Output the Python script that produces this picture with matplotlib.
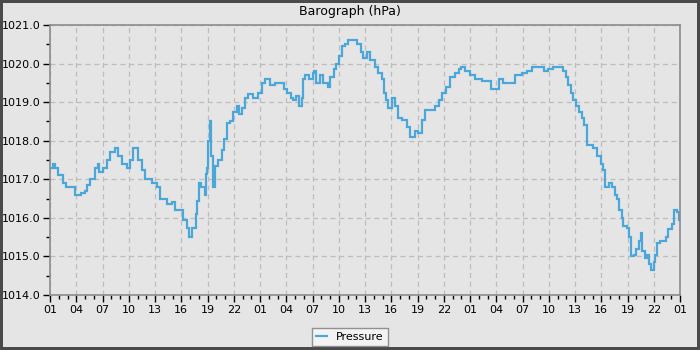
import matplotlib
matplotlib.use("Agg")
import matplotlib.pyplot as plt
from matplotlib.ticker import MultipleLocator, FixedLocator, FixedFormatter

# Hours since start (01:00 day 1) and pressure readings (hPa)
hours = [0.0, 0.3, 0.6, 0.9, 1.5, 1.8, 2.9, 3.5, 4.0, 4.2, 4.6, 5.1, 5.5, 5.6, 6.1, 6.5, 6.9,
         7.4, 7.8, 8.2, 8.8, 9.1, 9.5, 10.0, 10.5, 10.9, 11.6, 12.2, 12.6, 13.4, 13.9, 14.3,
         15.2, 15.6, 15.9, 16.2, 16.7, 16.8, 17.0, 17.3, 17.7, 17.8, 17.9, 18.0, 18.3, 18.4,
         18.6, 18.9, 19.2, 19.6, 19.9, 20.2, 20.6, 20.9, 21.4, 21.6, 21.9, 22.3, 22.6, 23.2,
         23.8, 24.2, 24.6, 25.1, 25.7, 26.3, 26.7, 27.1, 27.5, 27.8, 28.1, 28.4, 28.8, 28.9,
         29.1, 29.6, 30.0, 30.2, 30.4, 30.9, 31.2, 31.8, 32.0, 32.4, 32.7, 33.0, 33.4, 33.7,
         34.1, 35.1, 35.5, 35.8, 36.2, 36.6, 37.1, 37.5, 37.9, 38.2, 38.4, 38.6, 39.1, 39.4,
         39.8, 40.2, 40.8, 41.1, 41.7, 42.0, 42.5, 42.9, 44.0, 44.4, 44.8, 45.3, 45.7, 46.3,
         46.7, 47.0, 47.4, 48.0, 48.6, 49.4, 50.4, 51.3, 51.8, 53.1, 53.9, 54.5, 55.1, 56.4,
         56.9, 57.5, 58.6, 59.0, 59.2, 59.5, 59.8, 60.1, 60.5, 60.8, 61.0, 61.4, 62.1, 62.5,
         63.0, 63.2, 63.4, 63.9, 64.2, 64.6, 64.8, 65.0, 65.4, 65.5, 65.9, 66.2, 66.4, 66.7,
         67.0, 67.3, 67.5, 67.7, 68.0, 68.2, 68.4, 68.7, 69.0, 69.1, 69.4, 69.7, 70.4, 70.6,
         71.1, 71.3, 71.6, 71.9, 72.0]
pressure = [1017.3, 1017.4, 1017.3, 1017.1, 1016.9, 1016.8, 1016.6, 1016.65, 1016.7, 1016.85,
            1017.0, 1017.3, 1017.4, 1017.2, 1017.3, 1017.5, 1017.7, 1017.8, 1017.6, 1017.4,
            1017.3, 1017.5, 1017.8, 1017.5, 1017.25, 1017.0, 1016.9, 1016.8, 1016.5, 1016.35,
            1016.4, 1016.2, 1015.95, 1015.75, 1015.5, 1015.75, 1016.1, 1016.45, 1016.9, 1016.8,
            1016.6, 1017.15, 1017.3, 1018.0, 1018.5, 1017.6, 1016.8, 1017.35, 1017.5, 1017.75,
            1018.05, 1018.45, 1018.5, 1018.75, 1018.9, 1018.7, 1018.85, 1019.1, 1019.2, 1019.1,
            1019.25, 1019.5, 1019.6, 1019.45, 1019.5, 1019.5, 1019.35, 1019.25, 1019.1, 1019.05,
            1019.15, 1018.9, 1019.1, 1019.6, 1019.7, 1019.6, 1019.75, 1019.8, 1019.5, 1019.7,
            1019.5, 1019.4, 1019.65, 1019.85, 1020.0, 1020.2, 1020.45, 1020.5, 1020.6, 1020.5,
            1020.3, 1020.15, 1020.3, 1020.1, 1019.9, 1019.75, 1019.6, 1019.25, 1019.05, 1018.85,
            1019.1, 1018.9, 1018.6, 1018.55, 1018.35, 1018.1, 1018.25, 1018.2, 1018.55, 1018.8,
            1018.9, 1019.05, 1019.25, 1019.4, 1019.65, 1019.75, 1019.85, 1019.9, 1019.8, 1019.7,
            1019.6, 1019.55, 1019.35, 1019.6, 1019.5, 1019.7, 1019.75, 1019.8, 1019.9, 1019.8,
            1019.85, 1019.9, 1019.8, 1019.65, 1019.45, 1019.25, 1019.05, 1018.9, 1018.75, 1018.6,
            1018.4, 1017.9, 1017.8, 1017.6, 1017.4, 1017.25, 1016.8, 1016.9, 1016.8, 1016.6,
            1016.5, 1016.2, 1016.0, 1015.8, 1015.75, 1015.5, 1015.0, 1015.05, 1015.2, 1015.4,
            1015.6, 1015.15, 1014.95, 1015.05, 1014.8, 1014.65, 1014.85, 1015.05, 1015.35, 1015.4,
            1015.5, 1015.7, 1015.85, 1016.2, 1016.15, 1015.95, 1015.95]

tick_hours = list(range(0, 73, 3))
tick_labels = ["01", "04", "07", "10", "13", "16", "19", "22"] * 3 + ["01"]
series_name = "Pressure"
title = "Barograph (hPa)"

bg = "#e5e5e5"
fig = plt.figure(figsize=(7, 3.5), dpi=100)
fig.patch.set_facecolor(bg)
fig.patch.set_edgecolor("#4a4a4a")
fig.patch.set_linewidth(3)

ax = fig.add_axes([50/700, 1-295/350, 630/700, 270/350])
ax.set_facecolor(bg)
ax.plot(hours, pressure, drawstyle="steps-post", color="#4ba6d9", linewidth=1.6,
        label=series_name, solid_joinstyle="miter")

ax.set_xlim(0, 72)
ax.set_ylim(1014, 1021)
ax.xaxis.set_major_locator(FixedLocator(tick_hours))
ax.xaxis.set_major_formatter(FixedFormatter(tick_labels))
ax.xaxis.set_minor_locator(MultipleLocator(1))
ax.yaxis.set_major_locator(MultipleLocator(1))
ax.yaxis.set_minor_locator(MultipleLocator(0.5))
ax.yaxis.set_major_formatter(matplotlib.ticker.FormatStrFormatter("%.1f"))

ax.grid(True, which="major", linestyle=(0, (4, 3)), color="#bdbdbd", linewidth=0.9)
ax.set_axisbelow(True)
for s in ax.spines.values():
    s.set_color("#8c8c8c")
    s.set_linewidth(1.2)

ax.tick_params(axis="both", which="major", length=5, width=1, color="black",
               labelsize=8, pad=2, labelcolor="black")
ax.tick_params(axis="both", which="minor", length=3, width=1, color="black")

fig.text(0.5, 1 - 12/350, title, fontsize=9, ha="center", va="center")

leg = fig.legend(loc="lower center", bbox_to_anchor=(0.5, -0.005), fontsize=8,
                 frameon=True, fancybox=False, handlelength=1.0, borderpad=0.35,
                 handletextpad=0.8)
leg.get_frame().set_edgecolor("#7a7a7a")
leg.get_frame().set_facecolor("#f7f7f7")
leg.get_frame().set_linewidth(1)

fig.savefig("out.png", dpi=100, facecolor=fig.get_facecolor(), edgecolor=fig.get_edgecolor())
